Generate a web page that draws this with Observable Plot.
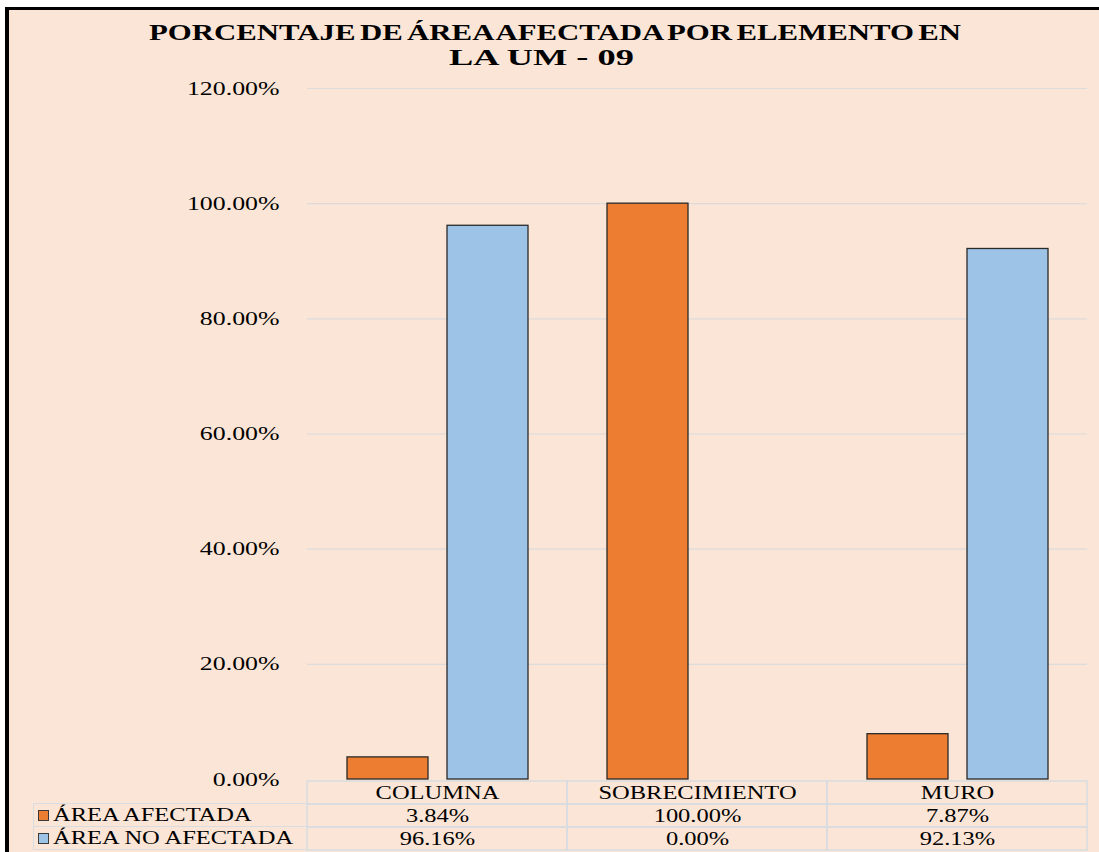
<!DOCTYPE html>
<html>
<head>
<meta charset="utf-8">
<script src="https://cdn.jsdelivr.net/npm/d3@7"></script>
<script src="https://cdn.jsdelivr.net/npm/@observablehq/plot@0.6"></script>
<style>
  html, body { margin: 0; padding: 0; background: #fff; }
  body { width: 1099px; height: 852px; overflow: hidden; position: relative; font-family: "Liberation Serif", "Times New Roman", serif; color: #000; }
  #frame { position: absolute; left: 5px; top: 7px; width: 1100px; height: 850px; border-left: 4px solid #000; border-top: 3px solid #000; background: #FBE5D6; }
  #title { position: absolute; left: 0; top: 20px; width: 1110px; text-align: center; font-weight: bold; font-size: 23px; line-height: 25px; z-index: 3; }
  .s { display: inline-block; white-space: nowrap; position: relative; }
  .s1 { transform: scaleX(1.34); word-spacing: -2.5px; }
  .s2 { transform: scaleX(1.58); left: -14px; }
  #legend { position: absolute; left: 33px; top: 803px; width: 274px; z-index: 3; }
  .lrow { position: relative; height: 23.5px; border: 1.5px solid #D9DCE1; border-right: none; box-sizing: border-box; font-size: 18px; line-height: 22px; }
  .lrow + .lrow { border-top: none; }
  .sw { position: absolute; left: 4px; top: 6px; width: 9px; height: 9px; border: 1px solid #3a3a3a; }
  .lt { position: absolute; left: 19px; top: 0; transform: scaleX(1.36); transform-origin: left center; white-space: nowrap; }
  .abs { position: absolute; left: 0; z-index: 2; }
</style>
</head>
<body>
<div id="frame"></div>
<div id="title">
  <div><span class="s s1">PORCENTAJE DE ÁREA AFECTADA POR ELEMENTO EN</span></div>
  <div><span class="s s2">LA UM - 09</span></div>
</div>
<div id="legend"></div>
<script>
// ---- data ----
const categories = ["COLUMNA", "SOBRECIMIENTO", "MURO"];
const series = ["ÁREA AFECTADA", "ÁREA NO AFECTADA"];
const afectada = [0.0384, 1.0, 0.0787];
const noAfectada = [0.9616, 0.0, 0.9213];
const yTicks = [0, 0.2, 0.4, 0.6, 0.8, 1.0, 1.2];
const seriesColors = ["#ED7D31", "#9DC3E6"];

const fmt = d3.format(".2%");
const values = [afectada, noAfectada];
const data = categories.flatMap((c, i) => series.map((s, j) => ({cat: c, series: s, value: values[j][i]})));

const rows = ["header", ...series];
const cells = rows.flatMap((r, ri) => categories.map((c, i) => ({
  cat: c, row: r, text: ri === 0 ? c : fmt(values[ri - 1][i])
})));

const STRETCH = 1.36;
function stretch(svg, k) {
  svg.querySelectorAll("text").forEach(t => {
    if (t.textContent.includes("⚠")) { t.remove(); return; }
    const len = t.getComputedTextLength();
    if (len > 0) {
      t.setAttribute("textLength", len * k);
      t.setAttribute("lengthAdjust", "spacingAndGlyphs");
    }
  });
}

// ---- main chart ----
const chart = Plot.plot({
  width: 1099,
  height: 780,
  marginTop: 88,
  marginBottom: 1,
  marginLeft: 307,
  marginRight: 12,
  style: {background: "transparent", fontFamily: "'Liberation Serif', 'Times New Roman', serif", fontSize: "19px", color: "#000", overflow: "visible"},
  facet: {data, x: "cat"},
  fx: {domain: categories, padding: 0, axis: null},
  x: {domain: series, paddingInner: 0.19, paddingOuter: 0.395, axis: null},
  y: {domain: [0, 1.2], ticks: yTicks, tickFormat: fmt, tickSize: 0, tickPadding: 28, label: null},
  color: {domain: series, range: seriesColors},
  marks: [
    Plot.ruleY(yTicks.filter(t => t > 0), {stroke: "#DCDCDC", strokeWidth: 1.2}),
    Plot.barY(data, {x: "series", y: "value", fill: "series", stroke: "#2a2a2a", strokeWidth: 1.3, filter: d => d.value > 0})
  ]
});
chart.classList.add("abs");
chart.style.top = "0px";
document.body.appendChild(chart);
stretch(chart, STRETCH);

// ---- data table ----
const table = Plot.plot({
  width: 1099,
  height: 73,
  marginTop: 0.5,
  marginBottom: 1.5,
  marginLeft: 307,
  marginRight: 12,
  style: {background: "transparent", fontFamily: "'Liberation Serif', 'Times New Roman', serif", fontSize: "18px", color: "#000", overflow: "visible"},
  x: {domain: categories, padding: 0, axis: null},
  y: {domain: rows, padding: 0, axis: null},
  marks: [
    Plot.cell(cells, {x: "cat", y: "row", fill: "none", stroke: "#D9DCE1", strokeWidth: 1.5, inset: 0}),
    Plot.text(cells, {x: "cat", y: "row", text: "text", fill: "#000", fontSize: 18})
  ]
});
table.classList.add("abs");
table.style.top = "778.5px";
document.body.appendChild(table);
stretch(table, STRETCH);

// ---- legend column of the table ----
const legend = document.getElementById("legend");
series.forEach((s, i) => {
  const row = document.createElement("div");
  row.className = "lrow";
  const sw = document.createElement("div");
  sw.className = "sw";
  sw.style.background = seriesColors[i];
  const lt = document.createElement("div");
  lt.className = "lt";
  lt.textContent = s;
  row.appendChild(sw);
  row.appendChild(lt);
  legend.appendChild(row);
});
</script>
</body>
</html>
